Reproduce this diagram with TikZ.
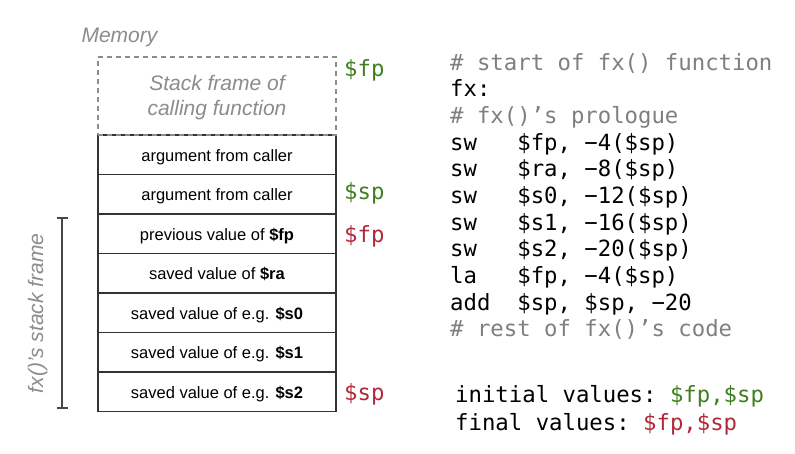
\documentclass[tikz,border=0pt]{standalone}
\usepackage{fontspec}
\setmainfont{Liberation Sans}
\setmonofont{DejaVu Sans Mono}
\usetikzlibrary{positioning,arrows.meta}
\definecolor{regGreen}{HTML}{3F7F1F}
\definecolor{regRed}{HTML}{B0283A}
\definecolor{noteGray}{HTML}{8C8C8C}
\definecolor{codeGray}{HTML}{7F7F7F}
\definecolor{boxLine}{HTML}{333333}
\tikzset{
  cell/.style={draw=boxLine, line width=1.3pt, minimum width=238pt, minimum height=39.5pt,
    inner sep=0pt, outer sep=0pt, font=\fontsize{16.5}{20}\selectfont},
  note/.style={text=noteGray, font=\fontsize{21}{25}\selectfont\itshape},
  reg/.style={inner sep=0pt, font=\fontsize{22.3}{26.7}\selectfont\ttfamily},
  code/.style={reg, align=left},
  bracket/.style={draw=boxLine!90, line width=1.8pt, {Bar[width=11pt]}-{Bar[width=11pt]}}
}
\begin{document}
\begin{tikzpicture}[x=1pt,y=-1pt]
\fill[white] (0,0) rectangle (795,454);
\useasboundingbox (0,0) rectangle (795,454);
% Stack cells
\foreach \i/\txt in {1/argument from caller, 2/argument from caller,
  3/previous value of \textbf{\$fp}, 4/saved value of \textbf{\$ra},
  5/saved value of e.g. \textbf{\$s0}, 6/saved value of e.g. \textbf{\$s1},
  7/saved value of e.g. \textbf{\$s2}}
  {\node[cell, text height=13pt, text depth=0pt, anchor=north west] (cell\i) at (98,{135+39.5*(\i-1)}) {\txt};}
% Caller's frame
\node[cell, note, draw=noteGray, dash pattern=on 5pt off 4pt, minimum height=78pt,
  align=center, anchor=south west] (caller) at (cell1.north west) {\strut Stack frame of\\calling function};
\node[note, anchor=base west] (memory) at (78,43) {Memory};
% Frame bracket
\coordinate (brTop) at (62,217);
\coordinate (brBot) at (62,409);
\draw[bracket] (brTop) -- (brBot);
\node[note, rotate=90, anchor=base] (frameLbl) at (43,313.5) {fx()’s stack frame};
% Register labels
\node[reg, text=regGreen, anchor=base west] (fpOld) at (344,77) {\$fp};
\node[reg, text=regGreen, anchor=base west] (spOld) at (344,200) {\$sp};
\node[reg, text=regRed, anchor=base west] (fpNew) at (344,243) {\$fp};
\node[reg, text=regRed, anchor=base west] (spNew) at (344,400) {\$sp};
% Code
\node[code, anchor=base west] (prologue) at (450,337) {%
\textcolor{codeGray}{\# start of fx() function}\\
fx:\\
\textcolor{codeGray}{\# fx()’s prologue}\\
sw~~~\$fp, −4(\$sp)\\
sw~~~\$ra, −8(\$sp)\\
sw~~~\$s0, −12(\$sp)\\
sw~~~\$s1, −16(\$sp)\\
sw~~~\$s2, −20(\$sp)\\
la~~~\$fp, −4(\$sp)\\
add~~\$sp, \$sp, −20\\
\textcolor{codeGray}{\# rest of fx()’s code}};
\node[code, font=\fontsize{22.3}{28}\selectfont\ttfamily, anchor=base west] (values) at (455,430) {%
initial values: \textcolor{regGreen}{\$fp,\$sp}\\
final values: \textcolor{regRed}{\$fp,\$sp}};
\end{tikzpicture}
\end{document}
